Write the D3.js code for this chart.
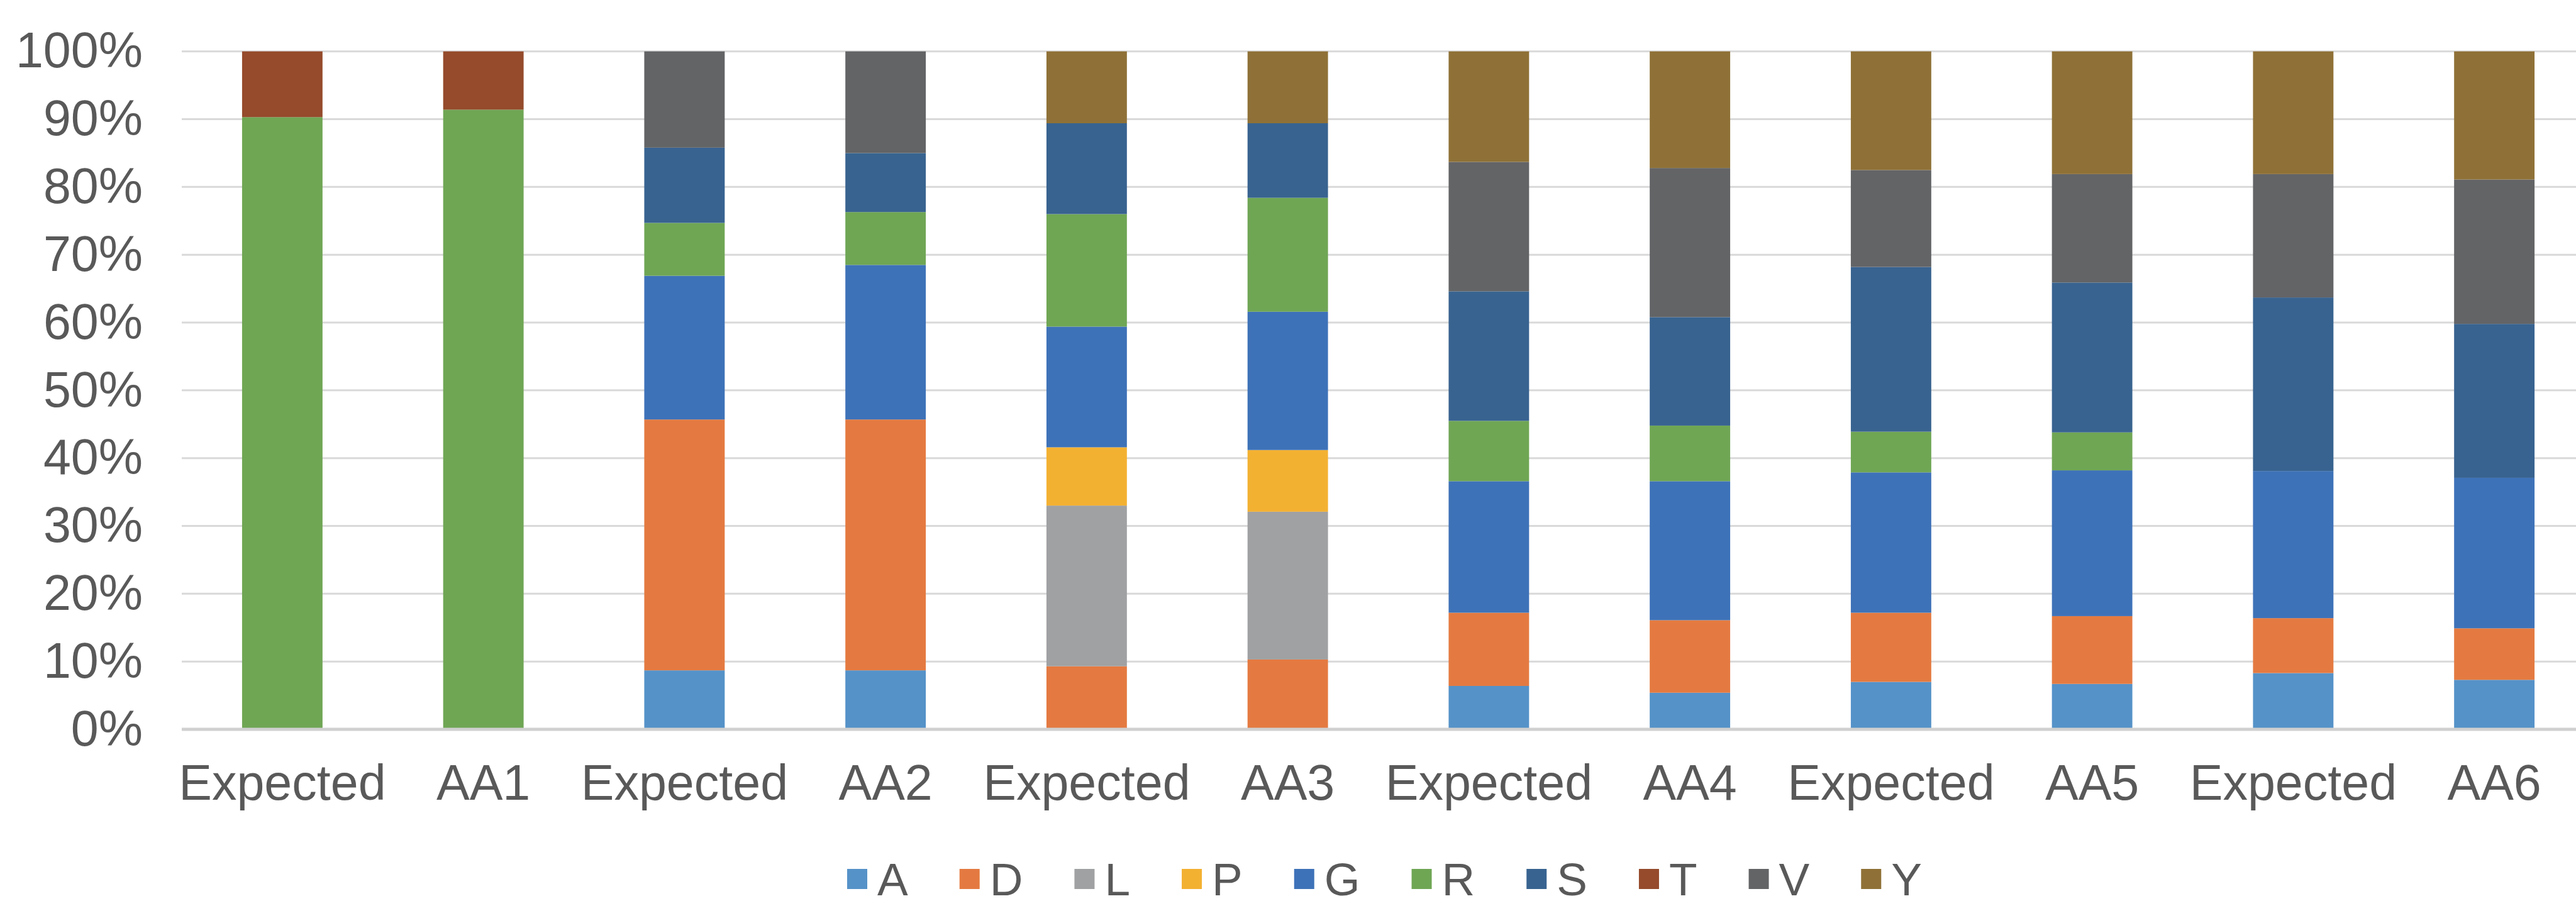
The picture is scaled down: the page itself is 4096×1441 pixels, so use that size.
<!DOCTYPE html>
<html>
<head>
<meta charset="utf-8">
<script src="https://cdn.jsdelivr.net/npm/d3@7"></script>
<style>
  html, body { margin: 0; padding: 0; background: #ffffff; }
  svg { display: block; }
</style>
</head>
<body>
<svg id="chart" width="4096" height="1441"></svg>
<script>
// ---- data ----
const categories = ["Expected","AA1","Expected","AA2","Expected","AA3","Expected","AA4","Expected","AA5","Expected","AA6"];
const seriesNames = ["A","D","L","P","G","R","S","T","V","Y"];
const A = [0, 0, 8.7, 8.7, 0, 0, 6.4, 5.4, 7.0, 6.7, 8.3, 7.3];
const D = [0, 0, 37.0, 37.0, 9.3, 10.3, 10.8, 10.7, 10.2, 10.0, 8.1, 7.6];
const L = [0, 0, 0, 0, 23.7, 21.8, 0, 0, 0, 0, 0, 0];
const P = [0, 0, 0, 0, 8.6, 9.1, 0, 0, 0, 0, 0, 0];
const G = [0, 0, 21.2, 22.8, 17.8, 20.4, 19.4, 20.5, 20.7, 21.5, 21.7, 22.2];
const R = [90.3, 91.4, 7.8, 7.8, 16.6, 16.8, 8.9, 8.2, 6.0, 5.6, 0, 0];
const S = [0, 0, 11.1, 8.7, 13.4, 11.0, 19.1, 16.0, 24.3, 22.1, 25.6, 22.7];
const T = [9.7, 8.6, 0, 0, 0, 0, 0, 0, 0, 0, 0, 0];
const V = [0, 0, 14.2, 15.0, 0, 0, 19.1, 22.0, 14.3, 16.0, 18.2, 21.3];
const Y = [0, 0, 0, 0, 10.6, 10.6, 16.3, 17.2, 17.5, 18.1, 18.1, 18.9];
const yTicks = [0, 0.1, 0.2, 0.3, 0.4, 0.5, 0.6, 0.7, 0.8, 0.9, 1.0];
const colors = ["#5592C8","#E47A41","#A0A1A3","#F3B132","#3E72B8","#6FA654","#386390","#954B2C","#636466","#8F7137"];

(function () {
// ---- build table ----
const seriesVals = {A, D, L, P, G, R, S, T, V, Y};
const table = categories.map((c, i) => {
  const row = {idx: i};
  seriesNames.forEach(s => row[s] = seriesVals[s][i]);
  return row;
});
const stacked = d3.stack().keys(seriesNames).offset(d3.stackOffsetExpand)(table);

// ---- layout ----
const svg = d3.select("#chart");
const mLeft = 289, mRight = 4126, mTop = 81.7, mBottom = 1160;
const fontFamily = "'Liberation Sans', Arial, Helvetica, sans-serif";
const textColor = "#595959";
const fs = 79;

const x = d3.scaleBand().domain(d3.range(categories.length)).range([mLeft, mRight])
  .paddingInner(0.6).paddingOuter(0.3);
const y = d3.scaleLinear().domain([0, 1]).range([mBottom, mTop]);
const color = d3.scaleOrdinal().domain(seriesNames).range(colors);

// gridlines
svg.append("g").selectAll("line").data(yTicks.slice(1)).join("line")
  .attr("x1", mLeft).attr("x2", mRight)
  .attr("y1", d => y(d)).attr("y2", d => y(d))
  .attr("stroke", "#D9D9D9").attr("stroke-width", 3);

// bars
svg.append("g").selectAll("g").data(stacked).join("g")
  .attr("fill", d => color(d.key))
  .selectAll("rect").data(d => d).join("rect")
  .attr("x", d => x(d.data.idx))
  .attr("width", x.bandwidth())
  .attr("y", d => y(d[1]))
  .attr("height", d => Math.max(0, y(d[0]) - y(d[1])));

// bottom axis line
svg.append("line").attr("x1", mLeft).attr("x2", mRight)
  .attr("y1", y(0)).attr("y2", y(0))
  .attr("stroke", "#D0D0D0").attr("stroke-width", 5);

// y axis
const yAxis = svg.append("g").attr("transform", `translate(${mLeft},0)`)
  .call(d3.axisLeft(y).tickValues(yTicks).tickSize(0).tickPadding(62)
    .tickFormat(d => Math.round(d * 100) + "%"));
yAxis.select(".domain").remove();
yAxis.selectAll("text").attr("font-family", fontFamily).attr("font-size", fs)
  .attr("fill", textColor);

// x axis
const xAxis = svg.append("g").attr("transform", `translate(0,${mBottom})`)
  .call(d3.axisBottom(x).tickSize(0).tickPadding(56).tickFormat(i => categories[i]));
xAxis.select(".domain").remove();
xAxis.selectAll("text").attr("font-family", fontFamily).attr("font-size", fs)
  .attr("fill", textColor);

// legend
const legend = svg.append("g");
const sw = 32, cy = 1398, lfs = 73;
let lx = 1347;
seriesNames.forEach(name => {
  legend.append("rect").attr("x", lx).attr("y", cy - sw / 2)
    .attr("width", sw).attr("height", sw).attr("fill", color(name));
  const t = legend.append("text").attr("x", lx + sw + 16).attr("y", cy)
    .attr("dy", "0.36em").attr("font-family", fontFamily).attr("font-size", lfs)
    .attr("fill", textColor).text(name);
  lx += sw + 16 + t.node().getComputedTextLength() + 82;
});
})();
</script>
</body>
</html>
